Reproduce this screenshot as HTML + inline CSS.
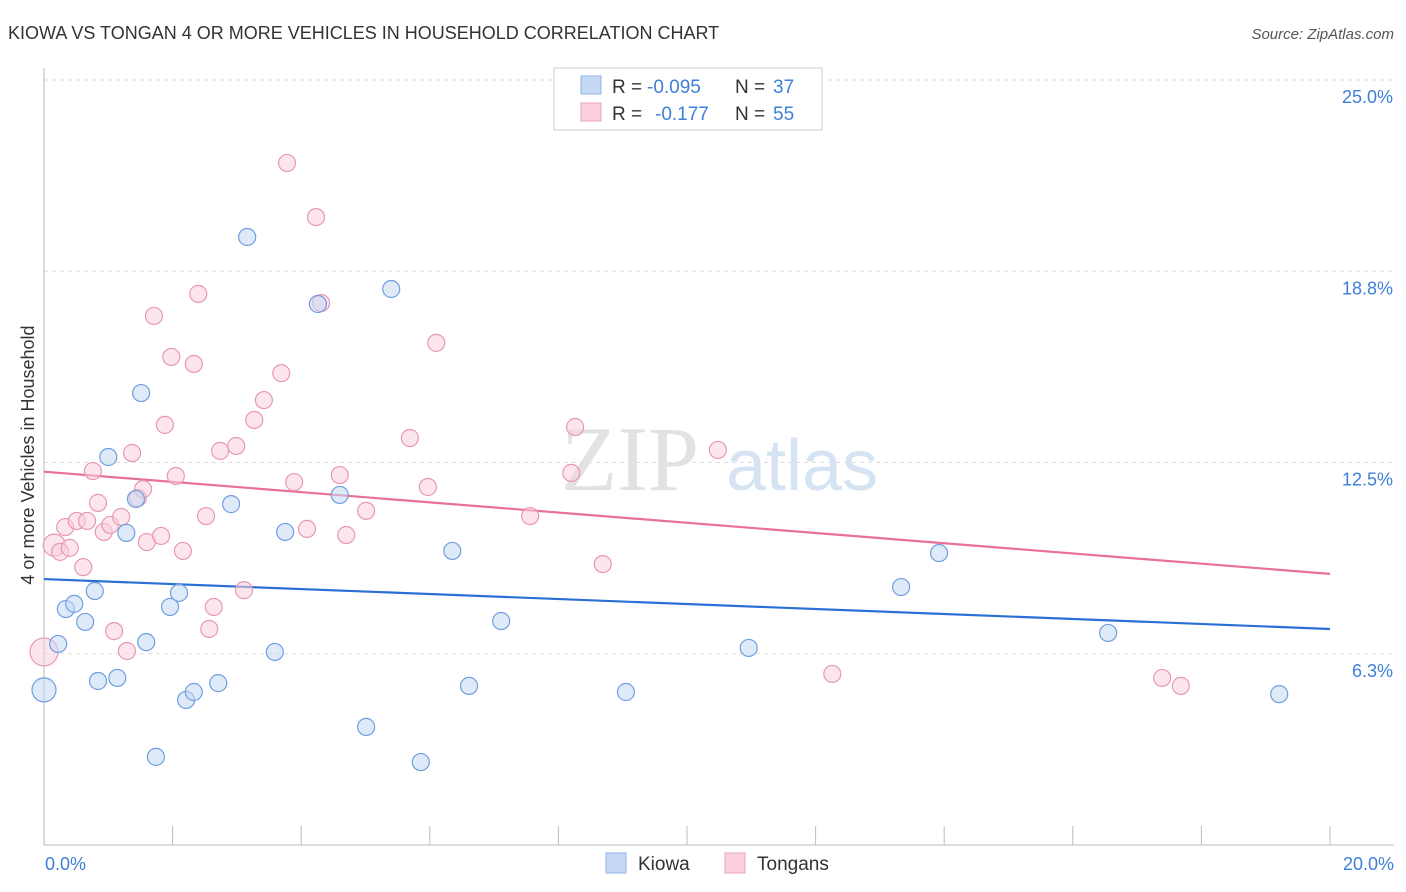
<!DOCTYPE html>
<html><head><meta charset="utf-8"><style>
body{margin:0;background:#fff;font-family:"Liberation Sans",sans-serif;}
svg{display:block}
</style></head><body>
<svg width="1406" height="892">
<text x="8" y="39" font-size="18" fill="#333">KIOWA VS TONGAN 4 OR MORE VEHICLES IN HOUSEHOLD CORRELATION CHART</text>
<text x="1394" y="39" font-size="15" fill="#555" font-style="italic" text-anchor="end">Source: ZipAtlas.com</text>
<g>
<text x="630" y="490" font-size="92" font-family="Liberation Serif,serif" fill="#e2e2e2" text-anchor="middle">ZIP</text>
<text x="802" y="490" font-size="72" fill="#d5e3f3" text-anchor="middle">atlas</text>
</g>
<g id="grid"></g><g id="axes"></g><g id="lines"></g><g id="pts"></g>
<text transform="translate(34,455) rotate(-90)" font-size="18" fill="#333" text-anchor="middle">4 or more Vehicles in Household</text>
<g>
<rect x="554" y="68" width="268" height="62" fill="#fff" stroke="#ccc"/>
<rect x="581" y="76" width="20" height="18" fill="#c5d9f4" stroke="#8fb2e6"/>
<text x="612" y="93" font-size="19" fill="#333">R =</text>
<text x="647" y="93" font-size="19" fill="#3d7fd9">-0.095</text>
<text x="735" y="93" font-size="19" fill="#333">N =</text>
<text x="773" y="93" font-size="19" fill="#3d7fd9">37</text>
<rect x="581" y="103" width="20" height="18" fill="#f9d0dc" stroke="#eca5bb"/>
<text x="612" y="120" font-size="19" fill="#333">R =</text>
<text x="655" y="120" font-size="19" fill="#3d7fd9">-0.177</text>
<text x="735" y="120" font-size="19" fill="#333">N =</text>
<text x="773" y="120" font-size="19" fill="#3d7fd9">55</text>
</g>
<g>
<rect x="606" y="853" width="20" height="20" fill="#c5d9f4" stroke="#8fb2e6"/>
<text x="638" y="870" font-size="19" fill="#333">Kiowa</text>
<rect x="725" y="853" width="20" height="20" fill="#f9d0dc" stroke="#eca5bb"/>
<text x="757" y="870" font-size="19" fill="#333">Tongans</text>
</g>
</svg>
<script>
const yTicks=[25.0,18.8,12.5,6.3];
const yTickVals=[25,18.75,12.5,6.25];
const xTickLabels=["0.0%","20.0%"];
const kiowaX=[0,0.22,0.34,0.47,0.64,0.79,0.84,1.0,1.14,1.28,1.43,1.51,1.59,1.74,1.96,2.10,2.21,2.33,2.71,2.91,3.16,3.59,3.75,4.26,4.60,5.01,5.40,5.86,6.35,6.61,7.11,9.05,10.96,13.33,13.92,16.55,19.21];
const kiowaY=[5.07,6.57,7.71,7.88,7.29,8.30,5.36,12.68,5.46,10.20,11.31,14.77,6.63,2.88,7.78,8.24,4.74,5.00,5.29,11.14,19.87,6.31,10.23,17.68,11.44,3.86,18.17,2.71,9.61,5.20,7.32,5.00,6.44,8.43,9.54,6.93,4.93];
const tonganX=[0,0.16,0.25,0.33,0.40,0.51,0.61,0.67,0.76,0.84,0.93,1.03,1.09,1.20,1.29,1.37,1.46,1.54,1.60,1.71,1.82,1.88,1.98,2.05,2.16,2.33,2.40,2.52,2.57,2.64,2.74,2.99,3.11,3.27,3.42,3.69,3.78,3.89,4.09,4.23,4.31,4.60,4.70,5.01,5.69,5.97,6.10,7.56,8.20,8.26,8.69,10.48,12.26,17.39,17.68];
const tonganY=[6.31,9.80,9.58,10.39,9.71,10.59,9.08,10.59,12.22,11.18,10.23,10.46,6.99,10.72,6.34,12.81,11.34,11.63,9.90,17.29,10.10,13.73,15.95,12.06,9.61,15.72,18.01,10.75,7.06,7.78,12.88,13.04,8.33,13.89,14.54,15.42,22.29,11.86,10.33,20.52,17.71,12.09,10.13,10.92,13.30,11.70,16.41,10.75,12.16,13.66,9.18,12.91,5.59,5.46,5.20];
const kiowaTrend=[8.69,7.06];
const tonganTrend=[12.2,8.86];
const NS="http://www.w3.org/2000/svg";
const X=v=>44+v*64.3, Y=v=>845-v*30.6;
function mk(p,t,a){const e=document.createElementNS(NS,t);for(const k in a)e.setAttribute(k,a[k]);document.getElementById(p).appendChild(e);return e;}
yTickVals.forEach((v,i)=>{
 const l=mk('grid','line',{x1:44,x2:1394,y1:Y(v),y2:Y(v),stroke:'#ddd','stroke-dasharray':'4,4'});
 
 
 const t=mk('grid','text',{x:1393,y:Y(v)+23,'font-size':18,fill:'#3d7fd9','text-anchor':'end'});
 t.textContent=yTicks[i].toFixed(1)+'%';
 
 
});
const ax=mk('axes','line',{x1:44,x2:44,y1:68,y2:845,stroke:'#bbb'});


const bx=mk('axes','line',{x1:44,x2:1394,y1:845,y2:845,stroke:'#bbb'});


for(let i=0;i<=20;i+=2){const t=mk('axes','line',{x1:X(i),x2:X(i),y1:826,y2:845,stroke:'#bbb'});
 
 }
[[0,'start',45],[20,'end',1394]].forEach(([v,a,x],i)=>{const t=mk('axes','text',{x:x,y:870,'font-size':18,fill:'#3d7fd9','text-anchor':a});t.textContent=xTickLabels[i];
 
 });
function pts(xs,ys,fill,stroke,name,big){xs.forEach((x,i)=>{const r=big[i]||8.5;
 const c=mk('pts','circle',{cx:X(x),cy:Y(ys[i]),r:r,fill:fill,'fill-opacity':0.55,stroke:stroke,'stroke-width':1.2});
 
 });}
pts(tonganX,tonganY,'#f9d0dc','#e899b2','tongan-point',{0:14,1:11});
pts(kiowaX,kiowaY,'#c5d9f4','#6f9ee0','kiowa-point',{0:12});
const l1=mk('lines','line',{x1:X(0),x2:X(20),y1:Y(kiowaTrend[0]),y2:Y(kiowaTrend[1]),stroke:'#2a6fd6','stroke-width':2.2});


const l2=mk('lines','line',{x1:X(0),x2:X(20),y1:Y(tonganTrend[0]),y2:Y(tonganTrend[1]),stroke:'#e8709a','stroke-width':2.2});


</script>
</body></html>
